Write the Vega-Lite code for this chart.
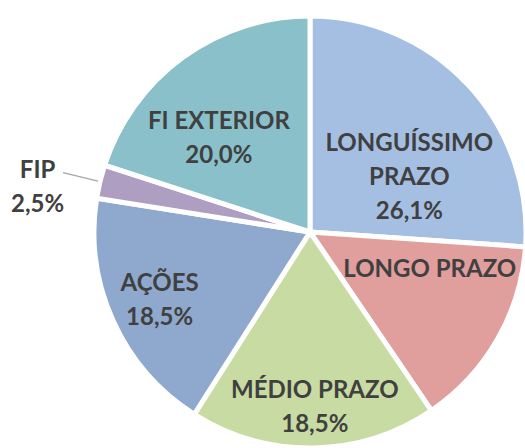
{
  "$schema": "https://vega.github.io/schema/vega-lite/v6.json",
  "autosize": "none",
  "width": 620,
  "height": 464,
  "padding": {"left": 0, "top": 0, "right": -95, "bottom": -16},
  "background": "white",
  "config": {"view": {"stroke": null}},
  "data": {"values": [
    {"ord": 1, "cat": "LONGUÍSSIMO PRAZO", "value": 26.1, "label": "LONGUÍSSIMO\nPRAZO\n26,1%"},
    {"ord": 2, "cat": "LONGO PRAZO", "value": 14.4, "label": "LONGO PRAZO"},
    {"ord": 3, "cat": "MÉDIO PRAZO", "value": 18.5, "label": "MÉDIO PRAZO\n18,5%"},
    {"ord": 4, "cat": "AÇÕES", "value": 18.5, "label": "AÇÕES\n18,5%"},
    {"ord": 5, "cat": "FIP", "value": 2.5, "label": "FIP\n2,5%"},
    {"ord": 6, "cat": "FI EXTERIOR", "value": 20.0, "label": "FI EXTERIOR\n20,0%"}
  ]},
  "encoding": {
    "theta": {"field": "value", "type": "quantitative", "stack": true},
    "order": {"field": "ord", "type": "quantitative"},
    "color": {
      "field": "cat", "type": "nominal", "legend": null,
      "scale": {
        "domain": ["LONGUÍSSIMO PRAZO", "LONGO PRAZO", "MÉDIO PRAZO", "AÇÕES", "FIP", "FI EXTERIOR"],
        "range": ["#a5bfe2", "#e09e9d", "#c8dba3", "#8fa9ce", "#ad9ec2", "#89c0ca"]
      }
    }
  },
  "layer": [
    {"mark": {"type": "arc", "outerRadius": 216, "stroke": "white", "strokeWidth": 5}},
    {
      "mark": {"type": "arc", "innerRadius": 218, "outerRadius": 254, "padAngle": 0.3, "fillOpacity": 0, "stroke": "#a6a6a6", "strokeWidth": 1.2},
      "encoding": {
        "strokeOpacity": {"condition": {"test": "datum.cat === 'FIP'", "value": 1}, "value": 0}
      }
    },
    {
      "mark": {"type": "text", "radius": 108.5, "dx": 20, "dy": -14, "font": "Lato", "fontWeight": "bold", "fontSize": 24, "fill": "#404040", "lineBreak": "\n", "lineHeight": 34, "align": "center", "baseline": "middle"},
      "encoding": {"text": {"condition": {"test": "datum.ord === 1", "field": "label"}, "value": ""}}
    },
    {
      "mark": {"type": "text", "radius": 122, "dx": 14, "dy": -23, "font": "Lato", "fontWeight": "bold", "fontSize": 24, "fill": "#404040", "lineBreak": "\n", "lineHeight": 34, "align": "center", "baseline": "middle"},
      "encoding": {"text": {"condition": {"test": "datum.ord === 2", "field": "label"}, "value": ""}}
    },
    {
      "mark": {"type": "text", "radius": 176, "dx": 2, "dy": -17, "font": "Lato", "fontWeight": "bold", "fontSize": 24, "fill": "#404040", "lineBreak": "\n", "lineHeight": 34, "align": "center", "baseline": "middle"},
      "encoding": {"text": {"condition": {"test": "datum.ord === 3", "field": "label"}, "value": ""}}
    },
    {
      "mark": {"type": "text", "radius": 165, "dx": 0, "dy": -16, "font": "Lato", "fontWeight": "bold", "fontSize": 24, "fill": "#404040", "lineBreak": "\n", "lineHeight": 34, "align": "center", "baseline": "middle"},
      "encoding": {"text": {"condition": {"test": "datum.ord === 4", "field": "label"}, "value": ""}}
    },
    {
      "mark": {"type": "text", "radius": 275, "dx": -5, "dy": 3, "font": "Lato", "fontWeight": "bold", "fontSize": 24, "fill": "#404040", "lineBreak": "\n", "lineHeight": 34, "align": "center", "baseline": "middle"},
      "encoding": {"text": {"condition": {"test": "datum.ord === 5", "field": "label"}, "value": ""}}
    },
    {
      "mark": {"type": "text", "radius": 129.5, "dx": -15, "dy": -5, "font": "Lato", "fontWeight": "bold", "fontSize": 24, "fill": "#404040", "lineBreak": "\n", "lineHeight": 34, "align": "center", "baseline": "middle"},
      "encoding": {"text": {"condition": {"test": "datum.ord === 6", "field": "label"}, "value": ""}}
    }
  ]
}
